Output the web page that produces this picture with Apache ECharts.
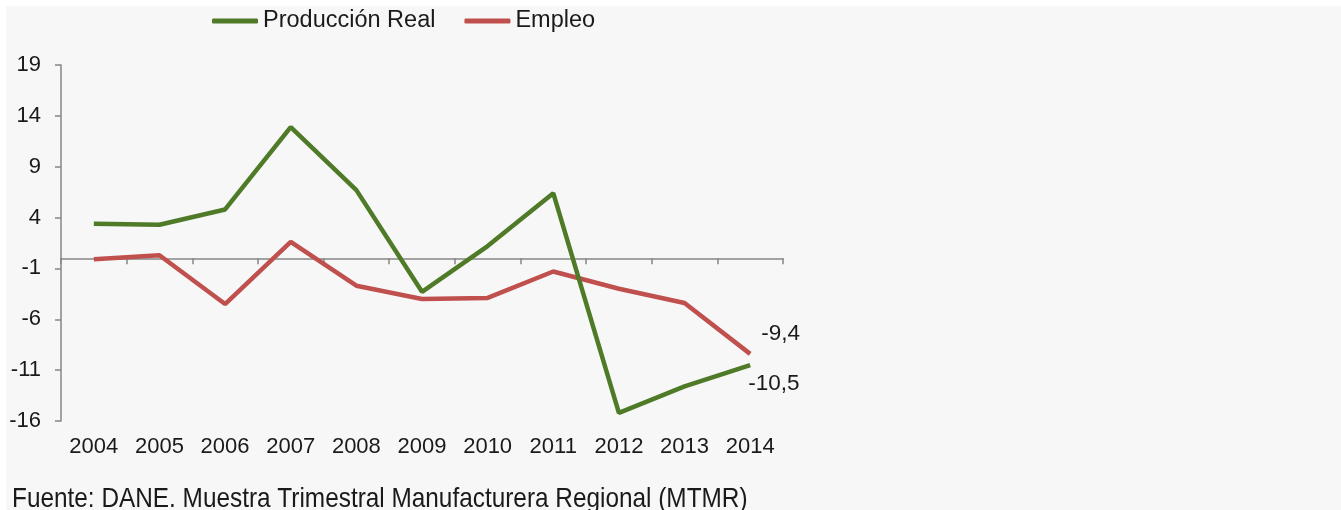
<!DOCTYPE html>
<html>
<head>
<meta charset="utf-8">
<script src="https://cdn.jsdelivr.net/npm/echarts@6/dist/echarts.min.js"></script>
<style>
  html, body { margin: 0; padding: 0; background: #ffffff; }
  #bg { position: absolute; left: 6px; top: 6px; width: 1335px; height: 504px; background: #f7f7f7; }
  #chart { position: absolute; left: 0; top: 0; width: 1341px; height: 510px; }
</style>
</head>
<body>
<div id="bg"></div>
<div id="chart"></div>
<script>
const years = ['2004','2005','2006','2007','2008','2009','2010','2011','2012','2013','2014'];
const produccionReal = [3.4, 3.3, 4.8, 12.9, 6.7, -3.3, 1.2, 6.4, -15.2, -12.6, -10.5];
const empleo = [-0.1, 0.3, -4.5, 1.6, -2.7, -4.0, -3.9, -1.3, -3.0, -4.4, -9.4];
const yTicks = [-16, -11, -6, -1, 4, 9, 14, 19];
const fuente = 'Fuente: DANE. Muestra Trimestral Manufacturera Regional (MTMR)';

const GREEN = '#4f7b28';
const RED = '#c0504d';
const FONT = 'Liberation Sans, Arial, sans-serif';

function endLabel(offset) {
  return {
    show: true,
    distance: 0,
    offset: offset,
    formatter: p => String(p.value).replace('.', ','),
    fontFamily: FONT,
    fontSize: 22.5,
    color: '#1a1a1a'
  };
}

const chart = echarts.init(document.getElementById('chart'), null, { renderer: 'canvas' });
chart.setOption({
  backgroundColor: 'transparent',
  animation: false,
  textStyle: { fontFamily: FONT },
  legend: {
    left: 212,
    top: 9,
    padding: 0,
    itemWidth: 46,
    itemHeight: 5,
    itemGap: 29,
    icon: 'roundRect',
    textStyle: { fontFamily: FONT, fontSize: 23.5, color: '#1a1a1a' },
    data: ['Producción Real', 'Empleo']
  },
  grid: { left: 61, right: 558, top: 65, bottom: 89, containLabel: false },
  xAxis: [
    {
      type: 'category',
      data: years,
      boundaryGap: true,
      position: 'bottom',
      axisLine: { show: false, onZero: false },
      axisTick: { show: false },
      axisLabel: { fontFamily: FONT, fontSize: 22, color: '#1a1a1a', margin: 15 }
    },
    {
      type: 'category',
      data: years,
      boundaryGap: true,
      position: 'bottom',
      axisLine: { show: true, onZero: true, lineStyle: { color: '#868686', width: 1.5 } },
      axisTick: { show: true, length: 6, inside: false, lineStyle: { color: '#868686', width: 1.5 } },
      axisLabel: { show: false }
    }
  ],
  yAxis: {
    type: 'value',
    min: yTicks[0],
    max: yTicks[yTicks.length - 1],
    interval: 5,
    splitLine: { show: false },
    axisLine: { show: true, onZero: false, lineStyle: { color: '#868686', width: 1.5 } },
    axisTick: { show: true, length: 6, lineStyle: { color: '#868686', width: 1.5 } },
    axisLabel: { fontFamily: FONT, fontSize: 22, color: '#1a1a1a', margin: 20 }
  },
  series: [
    {
      name: 'Producción Real',
      type: 'line',
      xAxisIndex: 0,
      data: produccionReal,
      showSymbol: false,
      symbol: 'none',
      lineStyle: { color: GREEN, width: 4.5 },
      itemStyle: { color: GREEN },
      endLabel: endLabel([-2, 19]),
      z: 3
    },
    {
      name: 'Empleo',
      type: 'line',
      xAxisIndex: 0,
      data: empleo,
      showSymbol: false,
      symbol: 'none',
      lineStyle: { color: RED, width: 4.5 },
      itemStyle: { color: RED },
      endLabel: endLabel([11, -20]),
      z: 2
    }
  ],
  graphic: [
    {
      type: 'text',
      x: 12,
      y: 485,
      scaleX: 0.87,
      style: {
        text: fuente,
        fontFamily: FONT,
        fontSize: 28,
        verticalAlign: 'top',
        fill: '#1a1a1a'
      }
    }
  ]
});
</script>
</body>
</html>
